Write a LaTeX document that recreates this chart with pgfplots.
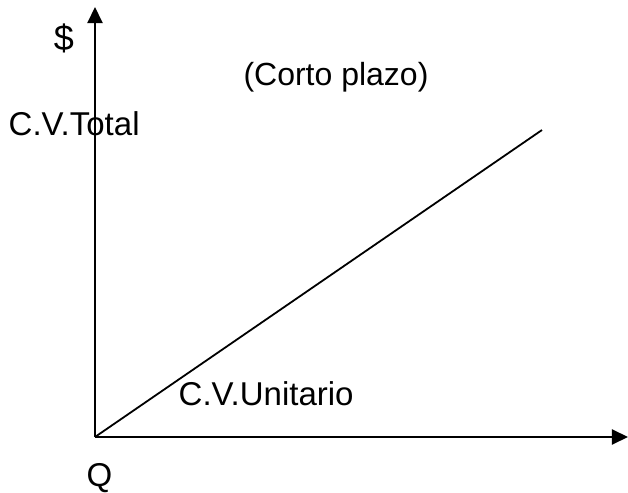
\documentclass[border=0pt]{standalone}
\usepackage{fontspec}
\setmainfont{Liberation Sans}
\usepackage{pgfplots}
\pgfplotsset{compat=1.18}
\usetikzlibrary{arrows.meta}
\tikzset{lbl/.style={font=\fontsize{33bp}{39bp}\selectfont, inner sep=0pt}}

\begin{document}
\begin{tikzpicture}
% frame of the page, in px of the reference (1px = 1bp)
\useasboundingbox (-95bp,-56bp) rectangle (533bp,437bp);
\begin{axis}[
    x=1bp, y=1bp,
    xmin=0, xmax=533,
    ymin=0, ymax=430,
    axis lines=left,
    axis line style={line width=2bp, -{Triangle[length=16bp,width=15bp]}},
    xtick=\empty, ytick=\empty,
    clip=false,
]
% costo variable total: recta desde el origen
\addplot[black, line width=1.8bp] coordinates {(0,0) (447,307)};

\node[lbl, anchor=base, font=\fontsize{36bp}{42bp}\selectfont] at (axis cs:-31,387) {\$};
\node[lbl, anchor=base west] at (axis cs:-86.5,302) {C.V.Total};
\node[lbl, anchor=base, font=\fontsize{32bp}{38bp}\selectfont] at (axis cs:241,352) {(Corto plazo)};
\node[lbl, anchor=base west] at (axis cs:83.5,32) {C.V.Unitario};
\node[lbl, anchor=base west] at (axis cs:-8.5,-49) {Q};
\end{axis}
\end{tikzpicture}
\end{document}
